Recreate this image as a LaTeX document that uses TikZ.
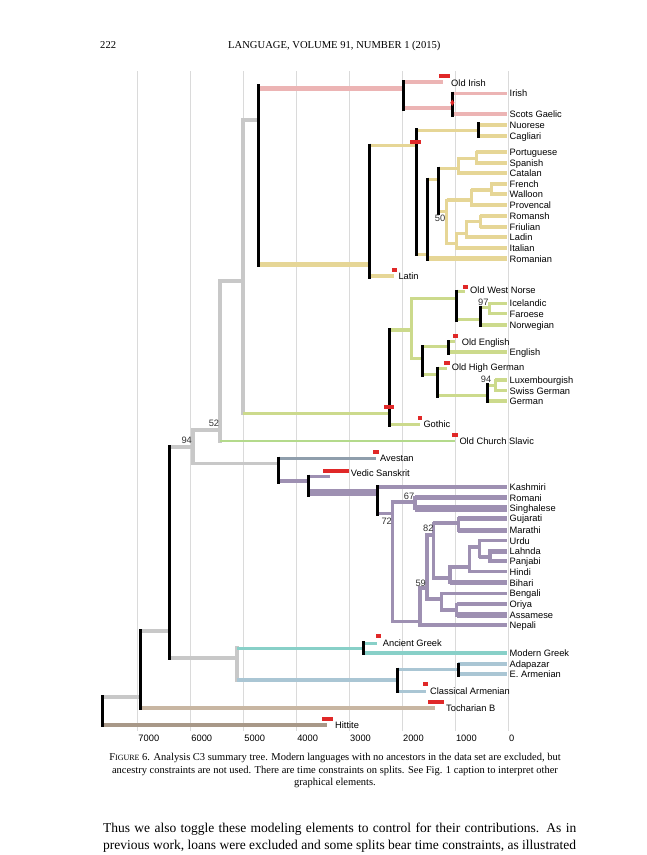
\documentclass[tikz,border=0pt]{standalone}
\usepackage{fontspec}
\setmainfont{Liberation Serif}
\setsansfont{Liberation Sans}
\definecolor{celt}{RGB}{236,180,180}
\definecolor{ital}{RGB}{230,214,150}
\definecolor{germ}{RGB}{204,218,140}
\definecolor{slav}{RGB}{180,218,140}
\definecolor{grayb}{RGB}{200,200,200}
\definecolor{aves}{RGB}{143,158,172}
\definecolor{indo}{RGB}{158,144,178}
\definecolor{greek}{RGB}{136,208,200}
\definecolor{arm}{RGB}{170,198,212}
\definecolor{toch}{RGB}{200,182,162}
\definecolor{hitt}{RGB}{168,152,136}
\definecolor{redm}{RGB}{224,40,40}
\definecolor{gridc}{RGB}{218,218,218}
\newcommand\brH[5]{\draw[#1,line width=#5pt] (#2,#4) -- (#3,#4);}
\newcommand\brV[5]{\draw[#1,line width=#5pt,line cap=rect] (#2,#3) -- (#2,#4);}
\newcommand\bV[3]{\draw[black,line width=3pt] (#1,#2) -- (#1,#3);}
\newcommand\redm[3]{\fill[redm] (#1,#3-2) rectangle (#2,#3+2);}
\newcommand\lf[4]{\node[lab] (#1) at (#2,#3+3.4) {#4};}
\newcommand\nm[4]{\node[num] (#1) at (#2,#3) {#4};}
\begin{document}
\begin{tikzpicture}[x=1pt,y=-1pt,
  lab/.style={font=\sffamily\fontsize{9.3}{10}\selectfont, anchor=base west, inner sep=0pt},
  num/.style={font=\sffamily\fontsize{9.3}{10}\selectfont, text=black!80, anchor=center, inner sep=0pt},
  serifs/.style={inner sep=0pt},
  captext/.style={serifs, anchor=base, font=\fontsize{10.5}{12}\selectfont},
  bodytext/.style={serifs, anchor=base west, font=\fontsize{13.5}{15}\selectfont}]
\useasboundingbox (0,0) rectangle (646,855);
\fill[white] (0,0) rectangle (646,855);
% header
\node[serifs, anchor=base west, font=\fontsize{10.6}{12}\selectfont] (pgno) at (100,48.5) {222};
\node[serifs, anchor=base west, font=\fontsize{10.6}{12}\selectfont] (title) at (228,48.5) {LANGUAGE, VOLUME 91, NUMBER 1 (2015)};
% grid
\foreach \t in {0,...,7} {\draw[gridc, line width=0.7pt] ({508.3-52.93*\t},71) -- ({508.3-52.93*\t},731);}
\foreach \t/\s in {7/7000,6/6000,5/5000,4/4000,3/3000,2/2000,1/1000,0/0} {\node[lab] (ax\t) at ({508.8-52.93*\t},741.5) {\s};}
% backbone
\brH{hitt}{102}{327}{725}{4}
\brH{grayb}{102}{140}{697}{4}
\brH{toch}{140}{435}{708}{4}
\brH{grayb}{140}{169}{631}{4}
\brH{grayb}{169}{193}{447}{3.5}
\brH{grayb}{169}{237}{658}{4}
\brV{grayb}{237}{648}{680}{4}
\brH{greek}{237}{363}{648}{3}
\brH{greek}{363}{377}{643}{3}
\brH{greek}{363}{507}{653}{3.5}
\brH{arm}{237}{397}{680}{4.5}
\brH{arm}{397}{458}{669}{3}
\brH{arm}{458}{507}{664}{4}
\brH{arm}{458}{507}{674.3}{4}
\brH{arm}{397}{426}{691}{3}
\brV{grayb}{193}{430}{463.3}{3.5}
\brH{grayb}{193}{220}{430}{3.5}
\brH{grayb}{193}{278.7}{463.3}{3.5}
\brV{grayb}{220}{281}{441}{3.5}
\brH{slav}{220}{455}{441}{2.5}
\brH{grayb}{220}{243}{281}{4}
\brV{grayb}{243}{120}{413.3}{3.5}
\brH{grayb}{243}{258}{120}{3.5}
\brH{germ}{243}{389.3}{413.3}{3.5}
\brH{celt}{258}{403}{88.3}{5}
\brH{ital}{258}{369.3}{264.3}{4.5}
% Celtic
\brH{celt}{403}{443}{82.3}{4}
\brH{celt}{403}{452.3}{108}{4}
\brH{celt}{452.3}{507}{93.3}{3.5}
\brH{celt}{452.3}{507}{114}{4}
% Italic
\brH{ital}{369.3}{416.7}{145.7}{3.5}
\brH{ital}{369.3}{394.3}{276}{3.5}
\brH{ital}{416.7}{478.3}{130.7}{3.3}
\brH{ital}{478.3}{507}{125}{4}
\brH{ital}{478.3}{507}{135.7}{4}
\brH{ital}{416.7}{427.3}{254.3}{3}
\brH{ital}{427.3}{507}{258.7}{4.5}
\brH{ital}{427.3}{438.3}{179.3}{3}
\brH{ital}{438.3}{458.3}{168.3}{3}
\brV{ital}{458.3}{158.3}{173.3}{3}
\brH{ital}{458.3}{507}{173.3}{4}
\brH{ital}{458.3}{476}{158.3}{3.5}
\brV{ital}{476}{152.3}{163}{3}
\brH{ital}{476}{507}{152.3}{4}
\brH{ital}{476}{507}{163}{4}
\brH{ital}{438.3}{446.7}{211.7}{3}
\brV{ital}{446.7}{200}{243.3}{3}
\brH{ital}{446.7}{471}{200}{3.5}
\brV{ital}{471}{190}{205}{3}
\brH{ital}{471}{507}{205}{4}
\brH{ital}{471}{491.7}{190}{3.5}
\brV{ital}{491.7}{183.7}{194.3}{3}
\brH{ital}{491.7}{507}{183.7}{4}
\brH{ital}{491.7}{507}{194.3}{4}
\brH{ital}{446.7}{456}{243.3}{3}
\brV{ital}{456}{233.3}{248.3}{3}
\brH{ital}{456}{507}{248.3}{4}
\brH{ital}{456}{466}{233.3}{3}
\brV{ital}{466}{221.7}{237.3}{3}
\brH{ital}{466}{507}{237.3}{4}
\brH{ital}{466}{480}{221.7}{3}
\brV{ital}{480}{216}{226.7}{3}
\brH{ital}{480}{507}{216}{4}
\brH{ital}{480}{507}{226.7}{4}
% Germanic
\brH{germ}{389.3}{411.7}{330}{3.5}
\brH{germ}{389.3}{420}{424.3}{3.5}
\brV{germ}{411.7}{298.3}{358.3}{3}
\brH{germ}{411.7}{456.7}{298.3}{3.5}
\brH{germ}{456.7}{465}{291.7}{3}
\brH{germ}{456.7}{480.7}{319.3}{3.5}
\brH{germ}{480.7}{507}{325}{4}
\brH{germ}{480.7}{489.3}{307.7}{3}
\brV{germ}{489.3}{303.3}{313.7}{3}
\brH{germ}{489.3}{507}{303.3}{3.5}
\brH{germ}{489.3}{507}{313.7}{3.5}
\brH{germ}{411.7}{422.7}{358.3}{3}
\brH{germ}{422.7}{448.3}{346.7}{3}
\brH{germ}{448.3}{455}{341.7}{3}
\brH{germ}{448.3}{507}{352.3}{4}
\brH{germ}{422.7}{437.3}{374}{3}
\brH{germ}{437.3}{446.7}{368.3}{3}
\brH{germ}{437.3}{487.3}{395.7}{3.5}
\brH{germ}{487.3}{507}{401}{3.5}
\brH{germ}{487.3}{495}{385}{3}
\brV{germ}{495}{380}{390.7}{3}
\brH{germ}{495}{507}{380}{3.5}
\brH{germ}{495}{507}{390.7}{3.5}
% Indo-Iranian
\brH{aves}{278.7}{375.7}{458.3}{3.5}
\brH{indo}{278.7}{308.7}{481}{3.5}
\brH{indo}{308.7}{330}{476}{3}
\brH{indo}{308.7}{377}{492.3}{7}
\brH{indo}{377}{507}{486.7}{4}
\brH{indo}{377}{392.3}{513.3}{3.5}
\brV{indo}{392.3}{501.7}{621.7}{3.5}
\brH{indo}{392.3}{415}{501.7}{4}
\brV{indo}{415}{497.7}{508.3}{3.5}
\brH{indo}{415}{507}{497.7}{5.5}
\brH{indo}{415}{507}{508.3}{6.5}
\brH{indo}{392.3}{420}{621.7}{3.5}
\brV{indo}{420}{588}{625}{3.5}
\brH{indo}{420}{507}{625}{3.5}
\brH{indo}{420}{427}{588}{3.5}
\brV{indo}{427}{535}{599}{3.5}
\brH{indo}{427}{433.3}{535}{3.5}
\brV{indo}{433.3}{523.3}{578.3}{3.5}
\brH{indo}{433.3}{458.3}{523.3}{4}
\brV{indo}{458.3}{518.3}{530}{3.5}
\brH{indo}{458.3}{507}{518.3}{5}
\brH{indo}{458.3}{507}{530}{5}
\brH{indo}{433.3}{450}{578.3}{4}
\brV{indo}{450}{566.7}{582.7}{3.5}
\brH{indo}{450}{507}{582.7}{4.5}
\brH{indo}{450}{469.3}{566.7}{4}
\brV{indo}{469.3}{546.7}{571.7}{3.5}
\brH{indo}{469.3}{507}{571.7}{3.5}
\brH{indo}{469.3}{479.3}{546.7}{4}
\brV{indo}{479.3}{540.7}{556.7}{3.5}
\brH{indo}{479.3}{507}{540.7}{3.5}
\brH{indo}{479.3}{490}{556.7}{4}
\brV{indo}{490}{551}{561}{3.5}
\brH{indo}{490}{507}{551}{5}
\brH{indo}{490}{507}{561}{3.5}
\brH{indo}{427}{441.7}{599}{4}
\brV{indo}{441.7}{593.3}{610}{3.5}
\brH{indo}{441.7}{507}{593.3}{3.5}
\brH{indo}{441.7}{456.7}{610}{4}
\brV{indo}{456.7}{604.3}{615}{3.5}
\brH{indo}{456.7}{507}{604.3}{4}
\brH{indo}{456.7}{507}{615}{6}
% black node bars
\bV{102}{695}{727}
\bV{140}{629}{710}
\bV{169}{445}{660}
\bV{258}{84}{266.5}
\bV{403}{80}{110.7}
\bV{452.3}{91.5}{116.5}
\bV{369.3}{143.5}{278.5}
\bV{416.7}{128.3}{256}
\bV{478.3}{122.3}{137.7}
\bV{427.3}{177.7}{260.5}
\bV{438.3}{166.7}{215}
\bV{389.3}{328}{426.7}
\bV{456.7}{289.5}{321.7}
\bV{480.7}{305.5}{327.3}
\bV{422.7}{345}{376.7}
\bV{448.3}{340}{355}
\bV{437.3}{366.5}{397.7}
\bV{487.3}{383.3}{402.7}
\bV{278.7}{456.5}{484}
\bV{308.7}{474.5}{496.7}
\bV{377}{485}{515.7}
\bV{363}{641}{655}
\bV{397.3}{667.5}{693}
\bV{458}{662.5}{676.5}
% red calibration marks
\redm{439}{450}{76}
\fill[redm] (452.3,99.5) -- (454.3,102.7) -- (452.3,105.9) -- (450.3,102.7) -- cycle;
\redm{410}{420.7}{141.7}
\redm{391.7}{396.7}{269.5}
\redm{463}{468}{287}
\redm{452.7}{457.7}{336}
\redm{444.3}{450}{363.3}
\redm{384}{394}{406.5}
\redm{418.3}{421.7}{418}
\redm{452}{458}{435.3}
\redm{372.7}{378.7}{452.3}
\redm{322.7}{349}{470.7}
\redm{375.7}{381}{636}
\redm{423}{428}{684.3}
\redm{428}{444}{702.3}
\redm{322}{333}{719.3}
% support values
\nm{s94a}{186.7}{440}{94}
\nm{s52}{214}{423}{52}
\nm{s50}{440}{218.3}{50}
\nm{s97}{483.3}{302.7}{97}
\nm{s94b}{486}{379.3}{94}
\nm{s67}{409}{496}{67}
\nm{s72}{386.7}{521.7}{72}
\nm{s82}{428.3}{528.3}{82}
\nm{s59}{420.7}{583.3}{59}
% leaf labels
\lf{oldirish}{451}{83}{Old Irish}
\lf{irish}{509.5}{93.3}{Irish}
\lf{scots}{509.5}{114}{Scots Gaelic}
\lf{nuorese}{509.5}{125}{Nuorese}
\lf{cagliari}{509.5}{135.7}{Cagliari}
\lf{portuguese}{509.5}{152.3}{Portuguese}
\lf{spanish}{509.5}{163}{Spanish}
\lf{catalan}{509.5}{173.3}{Catalan}
\lf{french}{509.5}{183.7}{French}
\lf{walloon}{509.5}{194.3}{Walloon}
\lf{provencal}{509.5}{205}{Provencal}
\lf{romansh}{509.5}{216}{Romansh}
\lf{friulian}{509.5}{226.7}{Friulian}
\lf{ladin}{509.5}{237.3}{Ladin}
\lf{italian}{509.5}{248.3}{Italian}
\lf{romanian}{509.5}{258.7}{Romanian}
\lf{latin}{398.3}{275.7}{Latin}
\lf{own}{470}{290}{Old West Norse}
\lf{icelandic}{509.5}{303.3}{Icelandic}
\lf{faroese}{509.5}{313.7}{Faroese}
\lf{norwegian}{509.5}{325}{Norwegian}
\lf{oldenglish}{461.7}{341.7}{Old English}
\lf{english}{509.5}{352.3}{English}
\lf{ohg}{451.7}{366.7}{Old High German}
\lf{lux}{509.5}{380}{Luxembourgish}
\lf{swiss}{509.5}{390.7}{Swiss German}
\lf{german}{509.5}{401}{German}
\lf{gothic}{423.3}{424.3}{Gothic}
\lf{ocs}{459.3}{441}{Old Church Slavic}
\lf{avestan}{380}{458.3}{Avestan}
\lf{vedic}{350.7}{473.5}{Vedic Sanskrit}
\lf{kashmiri}{509.5}{486.7}{Kashmiri}
\lf{romani}{509.5}{497.7}{Romani}
\lf{singhalese}{509.5}{508.3}{Singhalese}
\lf{gujarati}{509.5}{518.3}{Gujarati}
\lf{marathi}{509.5}{530}{Marathi}
\lf{urdu}{509.5}{540.7}{Urdu}
\lf{lahnda}{509.5}{551}{Lahnda}
\lf{panjabi}{509.5}{561}{Panjabi}
\lf{hindi}{509.5}{571.7}{Hindi}
\lf{bihari}{509.5}{582.7}{Bihari}
\lf{bengali}{509.5}{593.3}{Bengali}
\lf{oriya}{509.5}{604.3}{Oriya}
\lf{assamese}{509.5}{615}{Assamese}
\lf{nepali}{509.5}{625}{Nepali}
\lf{ancgreek}{382.7}{643}{Ancient Greek}
\lf{modgreek}{509.5}{653.3}{Modern Greek}
\lf{adapazar}{509.5}{664}{Adapazar}
\lf{earmenian}{509.5}{674.3}{E. Armenian}
\lf{clarm}{430}{691}{Classical Armenian}
\lf{tocharian}{446}{708}{Tocharian B}
\lf{hittite}{335}{725}{Hittite}
% caption
\node[captext] (cap1) at (335,760.5) {F{\fontsize{8}{9}\selectfont IGURE} 6. Analysis C3 summary tree. Modern languages with no ancestors in the data set are excluded, but};
\node[captext] (cap2) at (335,773) {ancestry constraints are not used. There are time constraints on splits. See Fig. 1 caption to interpret other};
\node[captext] (cap3) at (335,785) {graphical elements.};
% body text
\node[bodytext] (body1) at (103,832) {\makebox[473pt][s]{Thus we also toggle these modeling elements to control for their contributions. As in}};
\node[bodytext] (body2) at (103,849) {\makebox[473pt][s]{previous work, loans were excluded and some splits bear time constraints, as illustrated}};
\end{tikzpicture}
\end{document}
